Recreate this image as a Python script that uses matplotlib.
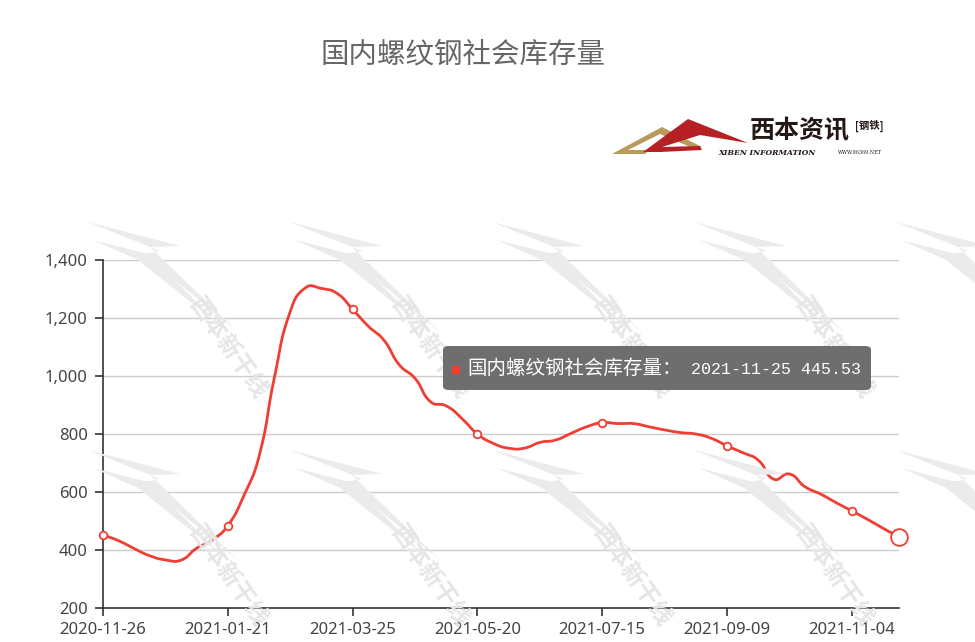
import numpy as np
import matplotlib
matplotlib.use("Agg")
import matplotlib.pyplot as plt
from matplotlib.patches import FancyBboxPatch, Polygon, Rectangle
import datetime as dt

plt.rcParams['font.family'] = ['Noto Sans CJK SC', 'DejaVu Sans']

# ---------------- data ----------------
title = "国内螺纹钢社会库存量"
series_name = "国内螺纹钢社会库存量"
start = dt.date(2020, 11, 26)
dates = [start + dt.timedelta(weeks=k) for k in range(60)]
dates = [d for d in dates if d != dt.date(2021, 2, 11)][:52]
date_labels = [d.strftime("%Y-%m-%d") for d in dates]

values = [452, 432, 405, 380, 366, 365, 406, 434, 484, 584,
          722, 998, 1222, 1305, 1302, 1285, 1230, 1172, 1124, 1038,
          992, 911, 897, 854, 800, 768, 751, 751, 771, 779,
          802, 825, 839, 836, 836, 825, 814, 805, 800, 785,
          759, 736, 710, 644, 662, 618, 593, 563, 535, 506,
          475, 445.53]
y_ticks = [200, 400, 600, 800, 1000, 1200, 1400]
tooltip_date = "2021-11-25"
tooltip_value = "445.53"

# ---------------- figure ----------------
W, H = 975, 642
fig = plt.figure(figsize=(W / 100, H / 100), dpi=100)
fig.patch.set_facecolor('white')

L, R, T, B = 103, 898.6, 260, 608
ax = fig.add_axes([L / W, 1 - B / H, (R - L) / W, (B - T) / H])
ax.set_facecolor('none')

n = len(values)
x = np.arange(n)
y = np.array(values, dtype=float)
ax.set_xlim(0, n - 1)
ax.set_ylim(200, 1400)


def fx(px):
    return px / W


def fy(py):
    return 1 - py / H


def fpoly(pts, color, z=0):
    fig.patches.append(Polygon([(fx(a), fy(b)) for a, b in pts], closed=True,
                               transform=fig.transFigure, facecolor=color,
                               edgecolor='none', zorder=z))


# ---- watermarks ----
wm_color = '#ebebeb'
for row_y in (220, 448):
    for k, col_x in enumerate((88, 290, 492, 694, 896)):
        fpoly([(col_x, row_y + 2), (col_x + 92, row_y + 26), (col_x + 62, row_y + 27),
               (col_x + 150, row_y + 112), (col_x + 55, row_y + 34), (col_x + 72, row_y + 31)],
              wm_color)
        fpoly([(col_x + 5, row_y + 20), (col_x + 60, row_y + 34), (col_x + 135, row_y + 108),
               (col_x + 50, row_y + 40)], wm_color)
        if k < 4:
            fig.text(fx(col_x + 140), fy(row_y + 128), "西本新干线", rotation=-55,
                     fontsize=17, color='#e6e6e6', ha='center', va='center',
                     fontweight='bold', zorder=0)

# grid
for t in y_ticks[1:]:
    ax.axhline(t, color='#cccccc', lw=1, zorder=1)

# ---- ECharts-style smooth line ----
sx = (R - L) / (n - 1)
sy = (B - T) / 1200.0
P = np.column_stack([x * sx, y * sy])
smooth = 0.5
cp_in = np.zeros_like(P)
cp_out = np.zeros_like(P)
for i in range(n):
    p = P[i]
    prev = P[i - 1] if i > 0 else p
    nxt = P[i + 1] if i < n - 1 else p
    v = (nxt - prev) * smooth
    d0 = np.hypot(*(p - prev))
    d1 = np.hypot(*(p - nxt))
    s = d0 + d1
    if s > 0:
        d0 /= s
        d1 /= s
    cp_in[i] = p - v * d0
    cp_out[i] = p + v * d1
curve = []
tt = np.linspace(0, 1, 25)
for i in range(n - 1):
    p0, p1, p2, p3 = P[i], cp_out[i], cp_in[i + 1], P[i + 1]
    seg = ((1 - tt) ** 3)[:, None] * p0 + (3 * (1 - tt) ** 2 * tt)[:, None] * p1 + \
          (3 * (1 - tt) * tt ** 2)[:, None] * p2 + (tt ** 3)[:, None] * p3
    curve.append(seg if i == 0 else seg[1:])
curve = np.vstack(curve)
line_color = '#ef3e33'
ax.plot(curve[:, 0] / sx, curve[:, 1] / sy, color=line_color, lw=2.0,
        solid_capstyle='round', zorder=3, clip_on=False)

mk = list(range(0, n - 1, 8))
ax.plot(x[mk], y[mk], 'o', ms=5.5, mfc='white', mec=line_color, mew=1.3,
        zorder=4, clip_on=False)
ax.plot([x[-1]], [y[-1]], 'o', ms=12, mfc='white', mec=line_color, mew=1.3,
        zorder=4, clip_on=False)

# axes styling
for sp in ('top', 'right'):
    ax.spines[sp].set_visible(False)
for sp in ('left', 'bottom'):
    ax.spines[sp].set_color('#333333')
    ax.spines[sp].set_linewidth(1.2)
ax.set_yticks(y_ticks)
ax.set_yticklabels([f"{t:,}" for t in y_ticks])
ax.set_xticks(x[::8])
ax.set_xticklabels([date_labels[i] for i in range(0, n, 8)])
ax.tick_params(axis='both', colors='#333333', length=6, width=1.2, direction='out')
ax.tick_params(axis='y', pad=5, labelcolor='#444444')
ax.tick_params(axis='x', pad=4, labelcolor='#444444')
for lab in ax.get_yticklabels() + ax.get_xticklabels():
    lab.set_family(['Noto Sans', 'DejaVu Sans'])
    lab.set_fontsize(12)

# ---- title ----
fig.text(fx(463.5), fy(55), title, ha='center', va='center', fontsize=20.5, color='#666666')

# ---- logo ----
fpoly([(612, 154), (662, 127), (702, 147), (690, 147), (660, 134), (628, 150), (650, 150), (645, 154)],
      '#b89a5a')
fpoly([(643, 152), (688, 119), (748, 143), (700, 135), (662, 147), (700, 146), (702, 150), (660, 152)],
      '#b52025')
fig.text(fx(750), fy(131), "西本资讯", ha='left', va='center', fontsize=18,
         fontweight='bold', color='#231815')
fig.text(fx(855), fy(126), "[钢铁]", ha='left', va='center', fontsize=7.5,
         fontweight='bold', color='#231815')
fig.text(fx(718), fy(153), "XIBEN INFORMATION", ha='left', va='center', fontsize=5.5,
         fontweight='bold', fontstyle='italic', color='#231815', family=['DejaVu Serif'])
fig.text(fx(838), fy(153), "WWW.96369.NET", ha='left', va='center', fontsize=3.5,
         color='#231815', family=['DejaVu Serif'])

# ---- tooltip ----
tx0, ty0, tx1, ty1 = 443, 346, 871, 390
fig.patches.append(FancyBboxPatch((fx(tx0), fy(ty1)), (tx1 - tx0) / W, (ty1 - ty0) / H,
                                  boxstyle="round,pad=0,rounding_size=0.006",
                                  transform=fig.transFigure, facecolor='#6e6e6e',
                                  edgecolor='none', zorder=10))
fig.patches.append(Rectangle((fx(452), fy(374)), 8 / W, 8 / H, transform=fig.transFigure,
                             facecolor='#f43e30', edgecolor='none', zorder=11))
fig.text(fx(467), fy(368), series_name + "：", ha='left', va='center', fontsize=14,
         color='white', zorder=12)
fig.text(fx(691), fy(369), f"{tooltip_date} {tooltip_value}", ha='left', va='center',
         fontsize=12, color='white', family=['Liberation Mono', 'DejaVu Sans Mono'], zorder=12)

fig.savefig("out.png", dpi=100, facecolor='white')
